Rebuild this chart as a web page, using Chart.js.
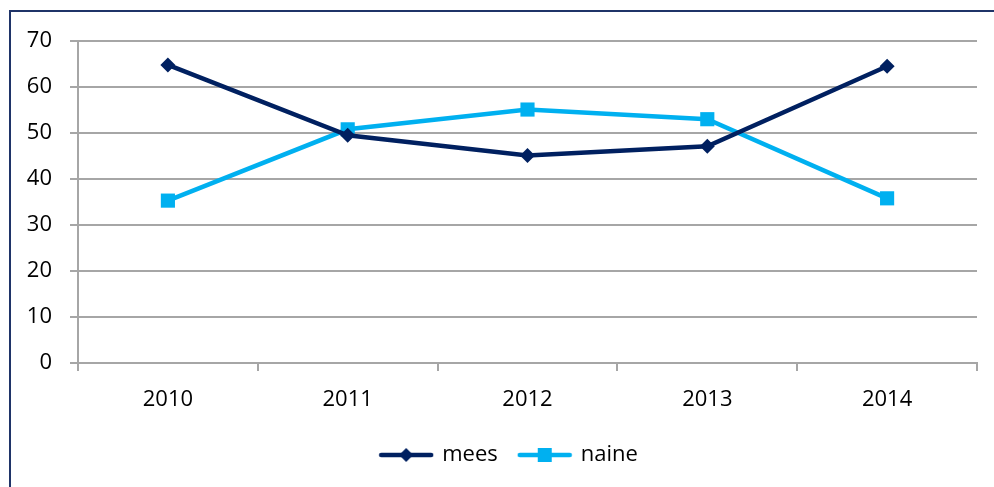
<!DOCTYPE html>
<html>
<head>
<meta charset="utf-8">
<script src="https://cdn.jsdelivr.net/npm/chart.js@4/dist/chart.umd.min.js"></script>
<style>
  html, body { margin: 0; padding: 0; background: #fff; }
  #wrap { position: relative; width: 994px; height: 487px; overflow: hidden; }
  #frame { position: absolute; left: 9px; top: 10px; width: 1000px; height: 500px;
           border: 2px solid #1f3468; box-sizing: border-box; pointer-events: none; }
  canvas { position: absolute; left: 0; top: 0; }
</style>
</head>
<body>
<div id="wrap">
  <div id="frame"></div>
  <canvas id="chart" width="994" height="487"></canvas>
</div>
<script>
// datos
const years = ['2010', '2011', '2012', '2013', '2014'];
const mees = [64.8, 49.5, 45.1, 47.1, 64.5];
const naine = [35.3, 50.8, 55.1, 53.0, 35.8];
const yTicks = [0, 10, 20, 30, 40, 50, 60, 70];

const navy = '#002060';
const cyan = '#00b0f0';
const gridGrey = '#a6a6a6';
const font = "'Open Sans', sans-serif";

// icono de leyenda: línea con marcador
function legendIcon(color, shape) {
    const c = document.createElement('canvas');
    c.width = 56; c.height = 18;
    const g = c.getContext('2d');
    g.strokeStyle = color;
    g.lineWidth = 4.5;
    g.lineCap = 'round';
    g.beginPath(); g.moveTo(3, 9); g.lineTo(53, 9); g.stroke();
    g.fillStyle = color;
    if (shape === 'diamond') {
        g.beginPath(); g.moveTo(28, 2); g.lineTo(35, 9); g.lineTo(28, 16); g.lineTo(21, 9); g.closePath(); g.fill();
    } else {
        g.fillRect(21, 2, 14, 14);
    }
    return c;
}

// desplaza la leyenda un poco a la derecha, como en el original
const legendShift = {
    id: 'legendShift',
    afterLayout(chart) {
        if (chart.legend) {
            chart.legend.left += 21;
            chart.legend.right += 21;
        }
    }
};

Chart.defaults.font.family = font;
Chart.defaults.color = '#000';

new Chart(document.getElementById('chart').getContext('2d'), {
    type: 'line',
    data: {
        labels: years,
        datasets: [{
            label: 'mees',
            data: mees,
            borderColor: navy,
            backgroundColor: navy,
            borderWidth: 4.5,
            pointStyle: 'rectRot',
            pointRadius: 7.5,
            pointHoverRadius: 7.5,
            pointBorderWidth: 0,
            tension: 0
        }, {
            label: 'naine',
            data: naine,
            borderColor: cyan,
            backgroundColor: cyan,
            borderWidth: 4.5,
            pointStyle: 'rect',
            pointRadius: 10,
            pointHoverRadius: 10,
            pointBorderWidth: 0,
            tension: 0
        }]
    },
    options: {
        responsive: false,
        animation: false,
        layout: { padding: { left: 0, right: 17, top: 41, bottom: 11 } },
        plugins: {
            tooltip: { enabled: false },
            legend: {
                position: 'bottom',
                labels: {
                    usePointStyle: true,
                    pointStyleWidth: 50,
                    padding: 22,
                    font: { size: 22 },
                    generateLabels: function(chart) {
                        return [
                            { text: 'mees', pointStyle: legendIcon(navy, 'diamond'), datasetIndex: 0, fontColor: '#000', lineWidth: 0 },
                            { text: 'naine', pointStyle: legendIcon(cyan, 'square'), datasetIndex: 1, fontColor: '#000', lineWidth: 0 }
                        ];
                    }
                }
            }
        },
        scales: {
            x: {
                offset: true,
                grid: { offset: true, drawOnChartArea: false, color: gridGrey, lineWidth: 2, tickLength: 8 },
                border: { color: gridGrey, width: 2 },
                ticks: { font: { size: 22 }, padding: 16 },
                afterFit: function(scale) { scale.height = 59; }
            },
            y: {
                min: 0,
                max: 70,
                afterBuildTicks: function(scale) { scale.ticks = yTicks.map(v => ({ value: v })); },
                grid: { color: gridGrey, lineWidth: 2, tickLength: 8 },
                border: { color: gridGrey, width: 2 },
                ticks: { font: { size: 22 }, padding: 18 },
                afterFit: function(scale) { scale.width = 78; }
            }
        }
    },
    plugins: [legendShift]
});
</script>
</body>
</html>
